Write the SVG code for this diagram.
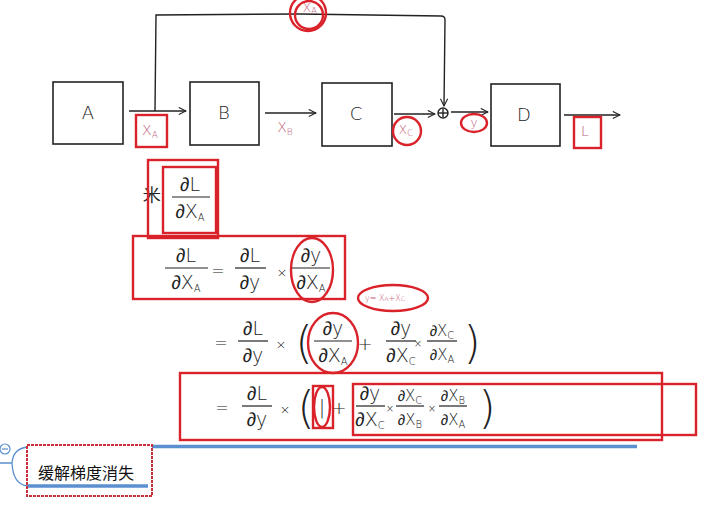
<svg xmlns="http://www.w3.org/2000/svg" width="717" height="512" viewBox="0 0 717 512">
<defs>
<marker id="ah" viewBox="0 0 10 10" refX="9" refY="5" markerWidth="9" markerHeight="9" orient="auto" markerUnits="userSpaceOnUse"><path d="M1,1 L9,5 L1,9" fill="none" stroke="#222" stroke-width="1.2"/></marker>
</defs>
<style>
.box{fill:#fff;stroke:#222;stroke-width:1.6}
.bl{font-family:"DejaVu Sans",sans-serif;font-size:18px;fill:#222;text-anchor:middle;font-weight:300}
.pk{font-family:"DejaVu Sans",sans-serif;font-size:14px;fill:#c2607a;text-anchor:middle;font-weight:300}
.pks{font-size:9px}
.red{fill:none;stroke:#d9222a;stroke-width:2.4}
.ln{fill:none;stroke:#222;stroke-width:1.4}
.m{font-family:"DejaVu Sans",sans-serif;font-size:19px;fill:#222;text-anchor:middle;font-weight:300}
.s{font-size:15px}
.sub{font-size:10px}
.fl{stroke:#222;stroke-width:1.2}
.op{font-family:"DejaVu Sans",sans-serif;font-size:16px;fill:#222;text-anchor:middle;font-weight:300}
.par{font-family:"DejaVu Sans",sans-serif;font-size:44px;fill:#222;text-anchor:middle;font-weight:200}
</style>
<rect width="717" height="512" fill="#fff"/>

<g id="connectors">
<line class="ln" x1="129" y1="111" x2="186" y2="111" marker-end="url(#ah)"/>
<line class="ln" x1="265" y1="113" x2="316" y2="113" marker-end="url(#ah)"/>
<line class="ln" x1="394" y1="114" x2="435" y2="114" marker-end="url(#ah)"/>
<line class="ln" x1="451" y1="112" x2="488" y2="112" marker-end="url(#ah)"/>
<line class="ln" x1="564" y1="115" x2="620" y2="115" marker-end="url(#ah)"/>
<path class="ln" d="M155,111 L156,15 L300,14 L441,16 Q445,16 445,20 L444,106" marker-end="url(#ah)"/>
</g>

<g id="node-A"><rect class="box" x="53" y="82" width="70" height="62"/><text class="bl" x="88" y="119">A</text></g>
<g id="node-B"><rect class="box" x="190" y="82" width="69" height="63"/><text class="bl" x="224" y="119">B</text></g>
<g id="node-C"><rect class="box" x="322" y="83" width="70" height="63"/><text class="bl" x="356" y="120">C</text></g>
<g id="node-D"><rect class="box" x="491" y="84" width="69" height="62"/><text class="bl" x="524" y="121">D</text></g>
<g id="node-sum"><circle cx="443" cy="113" r="5" class="ln"/><line class="ln" x1="438" y1="113" x2="448" y2="113"/><line class="ln" x1="443" y1="109" x2="443" y2="117"/></g>

<g id="label-xa"><rect class="red" x="136" y="115" width="31" height="32"/><text class="pk" x="150" y="135">X<tspan class="pks" dy="3">A</tspan></text></g>
<g id="label-xb"><text class="pk" x="285" y="132">X<tspan class="pks" dy="3">B</tspan></text></g>
<g id="label-xc"><circle class="red" cx="407" cy="131" r="14"/><text class="pk" x="406" y="134" style="font-size:12px">X<tspan class="pks" dy="2">C</tspan></text></g>
<g id="label-y"><ellipse class="red" cx="474" cy="123" rx="13" ry="9"/><text class="pk" x="474" y="127" style="font-size:12px">y</text></g>
<g id="label-L"><rect class="red" x="574" y="117" width="27" height="31"/><text class="pk" x="585" y="136">L</text></g>
<g id="label-xa-top"><circle class="red" cx="308" cy="13" r="18"/><circle class="red" cx="309" cy="15" r="14"/><text class="pk" x="310" y="12" style="font-size:12px">X<tspan class="pks" dy="2">A</tspan></text></g>

<g id="eq0">
<text class="op" x="152" y="201" style="font-size:18px">米</text>
<rect class="red" x="148" y="160" width="70" height="78"/>
<rect class="red" x="163" y="167" width="53" height="66"/>
<text class="m" x="190" y="191">∂L</text>
<line class="fl" x1="172" y1="197" x2="210" y2="197"/>
<text class="m" x="190" y="218">∂X<tspan class="sub" dy="3">A</tspan></text>
</g>

<g id="eq1">
<rect class="red" x="133" y="236" width="212" height="63"/>
<text class="m" x="186" y="262">∂L</text>
<line class="fl" x1="165" y1="268" x2="208" y2="268"/>
<text class="m" x="186" y="289">∂X<tspan class="sub" dy="3">A</tspan></text>
<text class="op" x="218" y="276">=</text>
<text class="m" x="250" y="262">∂L</text>
<line class="fl" x1="235" y1="268" x2="266" y2="268"/>
<text class="m" x="250" y="289">∂y</text>
<text class="op" x="282" y="277" style="font-size:13px">×</text>
<ellipse class="red" cx="312" cy="270" rx="21" ry="32"/>
<text class="m" x="311" y="262">∂y</text>
<line class="fl" x1="292" y1="268" x2="330" y2="268"/>
<text class="m" x="311" y="289">∂X<tspan class="sub" dy="3">A</tspan></text>
</g>

<g id="note"><ellipse class="red" cx="393" cy="298" rx="35" ry="13"/><text class="pk" x="385" y="301" style="font-size:8px">y= X<tspan style="font-size:6px">A</tspan>+X<tspan style="font-size:6px">C</tspan></text></g>

<g id="eq2">
<text class="op" x="221" y="348">=</text>
<text class="m" x="253" y="335">∂L</text>
<line class="fl" x1="238" y1="341" x2="268" y2="341"/>
<text class="m" x="253" y="362">∂y</text>
<text class="op" x="281" y="349" style="font-size:13px">×</text>
<text class="par" x="304" y="358">(</text>
<ellipse class="red" cx="333" cy="343" rx="25" ry="30"/>
<text class="m" x="333" y="335">∂y</text>
<line class="fl" x1="314" y1="341" x2="352" y2="341"/>
<text class="m" x="333" y="362">∂X<tspan class="sub" dy="3">A</tspan></text>
<text class="op" x="365" y="350" style="font-size:18px">+</text>
<text class="m" x="401" y="335">∂y</text>
<line class="fl" x1="386" y1="341" x2="416" y2="341"/>
<text class="m" x="401" y="362">∂X<tspan class="sub" dy="3">C</tspan></text>
<text class="op" x="418" y="347" style="font-size:10px">×</text>
<text class="m s" x="442" y="336">∂X<tspan class="sub" dy="3">C</tspan></text>
<line class="fl" x1="427" y1="341" x2="457" y2="341"/>
<text class="m s" x="442" y="360">∂X<tspan class="sub" dy="3">A</tspan></text>
<text class="par" x="472" y="358">)</text>
</g>

<g id="eq3">
<rect class="red" x="180" y="373" width="482" height="67"/>
<rect class="red" x="353" y="384" width="343" height="51"/>
<text class="op" x="222" y="413">=</text>
<text class="m" x="257" y="400">∂L</text>
<line class="fl" x1="242" y1="406" x2="272" y2="406"/>
<text class="m" x="257" y="426">∂y</text>
<text class="op" x="285" y="414" style="font-size:13px">×</text>
<text class="par" x="306" y="423">(</text>
<rect class="red" x="313" y="386" width="20" height="42"/>
<ellipse class="red" cx="322" cy="407" rx="8" ry="20"/>
<text class="m" x="322" y="414" style="font-weight:200">|</text>
<text class="op" x="339" y="414" style="font-size:18px">+</text>
<text class="m" x="370" y="400">∂y</text>
<line class="fl" x1="356" y1="406" x2="385" y2="406"/>
<text class="m" x="370" y="426">∂X<tspan class="sub" dy="3">C</tspan></text>
<text class="op" x="390" y="412" style="font-size:10px">×</text>
<text class="m s" x="410" y="401">∂X<tspan class="sub" dy="3">C</tspan></text>
<line class="fl" x1="396" y1="406" x2="424" y2="406"/>
<text class="m s" x="410" y="425">∂X<tspan class="sub" dy="3">B</tspan></text>
<text class="op" x="432" y="412" style="font-size:10px">×</text>
<text class="m s" x="453" y="401">∂X<tspan class="sub" dy="3">B</tspan></text>
<line class="fl" x1="439" y1="406" x2="467" y2="406"/>
<text class="m s" x="453" y="425">∂X<tspan class="sub" dy="3">A</tspan></text>
<text class="par" x="487" y="423">)</text>
</g>

<g id="mindmap-node">
<line x1="152" y1="446.5" x2="637" y2="446.5" stroke="#5b8fd0" stroke-width="3.5"/>
<path d="M0,463 L12,463 M27,447 Q13,449 12,463 Q13,484 27,486" fill="none" stroke="#5b8fd0" stroke-width="1.3"/>
<circle cx="5" cy="449" r="5" fill="#fff" stroke="#5b8fd0" stroke-width="1.2"/>
<line x1="2" y1="449" x2="8" y2="449" stroke="#5b8fd0" stroke-width="1.2"/>
<line x1="27" y1="486" x2="148" y2="486" stroke="#5b8fd0" stroke-width="3.5"/>
<rect x="27" y="445" width="125" height="51" fill="none" stroke="#c8303a" stroke-width="2" stroke-dasharray="3 1"/>
<text x="38" y="479" style="font-family:'Noto Sans CJK SC',sans-serif;font-size:16px;fill:#111">缓解梯度消失</text>
</g>
</svg>
